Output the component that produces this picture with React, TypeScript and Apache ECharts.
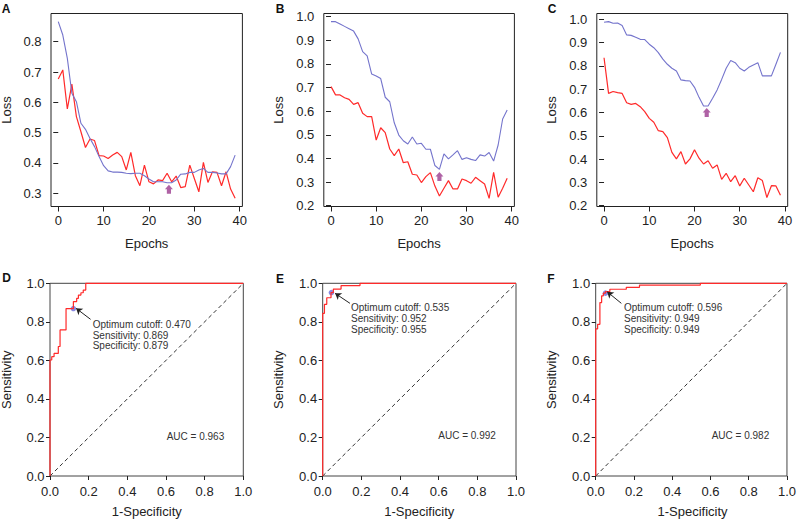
import React, { useEffect, useRef } from "react";
import * as echarts from "echarts";

const FONT = '"Liberation Sans", Arial, Helvetica, sans-serif';

const EPOCHS = [0,1,2,3,4,5,6,7,8,9,10,11,12,13,14,15,16,17,18,19,20,21,22,23,24,25,26,27,28,29,30,31,32,33,34,35,36,37,38,39];

// Panel A
const A_RED = [0.677,0.707,0.578,0.660,0.553,0.503,0.451,0.479,0.474,0.424,0.423,0.415,0.426,0.435,0.421,0.377,0.435,0.358,0.325,0.393,0.338,0.331,0.344,0.342,0.366,0.338,0.357,0.319,0.322,0.393,0.349,0.305,0.402,0.336,0.371,0.369,0.325,0.371,0.314,0.284];
const A_BLUE = [0.866,0.822,0.745,0.630,0.602,0.531,0.511,0.481,0.454,0.421,0.391,0.374,0.370,0.370,0.369,0.366,0.365,0.366,0.366,0.358,0.347,0.338,0.338,0.338,0.335,0.335,0.344,0.363,0.364,0.369,0.369,0.377,0.382,0.369,0.369,0.367,0.364,0.364,0.388,0.426];
// Panel B
const B_RED = [0.704,0.669,0.669,0.657,0.650,0.629,0.636,0.591,0.577,0.577,0.478,0.530,0.509,0.440,0.412,0.440,0.382,0.386,0.333,0.330,0.298,0.323,0.340,0.283,0.241,0.274,0.306,0.271,0.271,0.313,0.306,0.295,0.320,0.306,0.292,0.231,0.341,0.236,0.274,0.316];
const B_BLUE = [0.979,0.979,0.969,0.959,0.949,0.939,0.906,0.852,0.834,0.757,0.749,0.738,0.659,0.640,0.551,0.499,0.475,0.461,0.491,0.461,0.464,0.439,0.439,0.370,0.354,0.419,0.398,0.415,0.433,0.396,0.403,0.396,0.391,0.415,0.410,0.425,0.389,0.457,0.567,0.605];
// Panel C
const C_RED = [0.835,0.682,0.690,0.685,0.682,0.642,0.635,0.639,0.625,0.604,0.575,0.558,0.522,0.518,0.492,0.429,0.401,0.432,0.379,0.401,0.440,0.404,0.379,0.393,0.361,0.375,0.313,0.339,0.303,0.329,0.285,0.318,0.289,0.260,0.320,0.308,0.235,0.286,0.285,0.245];
const C_BLUE = [0.987,0.990,0.983,0.984,0.973,0.933,0.931,0.923,0.914,0.913,0.893,0.878,0.857,0.829,0.807,0.790,0.778,0.740,0.737,0.735,0.708,0.665,0.628,0.628,0.661,0.697,0.742,0.790,0.823,0.814,0.790,0.778,0.794,0.804,0.814,0.757,0.757,0.757,0.807,0.858];

// optimum-epoch arrows [epoch, loss]
const ARROW_A = [24.4, 0.3135];
const ARROW_B = [24.0, 0.3235];
const ARROW_C = [22.7, 0.600];

const LOSS_TICKS_X = [0, 10, 20, 30, 40];
const LOSS_TICKS_A = [0.3, 0.4, 0.5, 0.6, 0.7, 0.8];
const LOSS_TICKS_BC = [0.2, 0.3, 0.4, 0.5, 0.6, 0.7, 0.8, 0.9, 1.0];
const ROC_TICKS = [0, 0.2, 0.4, 0.6, 0.8, 1.0];

// ROC curves [1-specificity, sensitivity]
const ROC_D = [[0,0],[0,0.602],[0.009,0.602],[0.009,0.619],[0.021,0.619],[0.021,0.636],[0.043,0.636],[0.043,0.672],[0.052,0.672],[0.052,0.758],[0.083,0.758],[0.083,0.869],[0.121,0.869],[0.121,0.905],[0.138,0.905],[0.138,0.922],[0.147,0.922],[0.147,0.939],[0.160,0.939],[0.160,0.951],[0.172,0.951],[0.172,0.965],[0.185,0.965],[0.185,1],[1,1]];
const ROC_E = [[0,0],[0,0.844],[0.009,0.844],[0.009,0.891],[0.021,0.891],[0.021,0.925],[0.043,0.925],[0.043,0.952],[0.055,0.952],[0.055,0.970],[0.095,0.970],[0.095,0.988],[0.193,0.988],[0.193,1],[1,1]];
const ROC_F = [[0,0],[0,0.763],[0.010,0.763],[0.010,0.787],[0.022,0.787],[0.022,0.900],[0.031,0.900],[0.031,0.935],[0.040,0.935],[0.040,0.949],[0.051,0.949],[0.051,0.957],[0.074,0.957],[0.074,0.969],[0.160,0.969],[0.160,0.979],[0.229,0.979],[0.229,0.991],[0.547,0.991],[0.547,1],[1,1]];
const CUTOFF_D = [0.121, 0.869];
const CUTOFF_E = [0.045, 0.952];
const CUTOFF_F = [0.051, 0.949];
const POINTER_D = [[0.21, 0.813], [0.135, 0.870]];
const POINTER_E = [[0.141, 0.896], [0.064, 0.948]];
const POINTER_F = [[0.134, 0.896], [0.060, 0.956]];
const TEXT_D = ["Optimum cutoff: 0.470", "Sensitivity: 0.869", "Specificity: 0.879"];
const TEXT_E = ["Optimum cutoff: 0.535", "Sensitivity: 0.952", "Specificity: 0.955"];
const TEXT_F = ["Optimum cutoff: 0.596", "Sensitivity: 0.949", "Specificity: 0.949"];
const AUC = ["AUC = 0.963", "AUC = 0.992", "AUC = 0.982"];
const LETTERS = ["A", "B", "C", "D", "E", "F"];

const RED = "#ff2a2a";
const BLUE = "#7474cc";
const ARROW_COLOR = "#9b3b8f";
const TXT = "#222";
const ARROW_PATH = "path://M5,0L10,5L7.6,5L7.6,10L2.4,10L2.4,5L0,5Z";

export default function App() {
  const ref = useRef<HTMLDivElement>(null);
  useEffect(() => {
    if (!ref.current) return;
    const chart = echarts.init(ref.current, null, { renderer: "svg" });

    const grids = [
      { left: 51, top: 13.5, width: 191.4, height: 193, borderColor: "#222" },
      { left: 323.8, top: 13.5, width: 190.6, height: 193, borderColor: "#222" },
      { left: 596.8, top: 13.5, width: 190.9, height: 193, borderColor: "#222" },
      { left: 50, top: 283.3, width: 193.3, height: 192.7, borderColor: "#444" },
      { left: 322.7, top: 283.3, width: 193.3, height: 192.7, borderColor: "#444" },
      { left: 595.7, top: 283.3, width: 193.6, height: 192.7, borderColor: "#444" },
    ].map((g) => ({ ...g, show: true, borderWidth: 1, backgroundColor: "transparent", containLabel: false }));

    const mkX = (i: number, min: number, max: number, ticks: number[], top: boolean) => ({
      gridIndex: i, type: "value", min, max,
      axisLine: { show: false },
      axisTick: { show: true, length: top ? 5 : 4, lineStyle: { color: "#222" }, customValues: ticks },
      axisLabel: {
        customValues: ticks, margin: top ? 7 : 9, fontSize: 13, color: TXT, fontFamily: FONT,
        formatter: (v: number) => (top ? String(Math.round(v)) : v.toFixed(1)),
      },
      splitLine: { show: false },
    });
    const mkY = (i: number, min: number, max: number, ticks: number[], top: boolean) => ({
      gridIndex: i, type: "value", min, max,
      axisLine: { show: false },
      axisTick: { show: true, length: top ? 5 : 4, lineStyle: { color: "#222" }, customValues: ticks },
      axisLabel: {
        customValues: ticks, margin: top ? 9.5 : 5.5, fontSize: 13, color: TXT, fontFamily: FONT,
        formatter: (v: number) => v.toFixed(1),
      },
      splitLine: { show: false },
    });

    const xAxis = [
      mkX(0, -1.6, 40.6, LOSS_TICKS_X, true),
      mkX(1, -1.6, 40.6, LOSS_TICKS_X, true),
      mkX(2, -1.6, 40.6, LOSS_TICKS_X, true),
      mkX(3, 0, 1, ROC_TICKS, false),
      mkX(4, 0, 1, ROC_TICKS, false),
      mkX(5, 0, 1, ROC_TICKS, false),
    ];
    const yAxis = [
      mkY(0, 0.2565, 0.893, LOSS_TICKS_A, true),
      mkY(1, 0.1966, 1.0135, LOSS_TICKS_BC, true),
      mkY(2, 0.1966, 1.0249, LOSS_TICKS_BC, true),
      mkY(3, 0, 1, ROC_TICKS, false),
      mkY(4, 0, 1, ROC_TICKS, false),
      mkY(5, 0, 1, ROC_TICKS, false),
    ];

    const series: any[] = [];
    const lossSets = [
      [A_RED, A_BLUE, ARROW_A],
      [B_RED, B_BLUE, ARROW_B],
      [C_RED, C_BLUE, ARROW_C],
    ];
    lossSets.forEach(([red, blue, arrow], i) => {
      series.push({
        type: "line", xAxisIndex: i, yAxisIndex: i, symbol: "none", showSymbol: false,
        data: (red as number[]).map((v, k) => [EPOCHS[k], v]),
        lineStyle: { color: RED, width: 1.2 }, silent: true,
      });
      series.push({
        type: "line", xAxisIndex: i, yAxisIndex: i, symbol: "none", showSymbol: false,
        data: (blue as number[]).map((v, k) => [EPOCHS[k], v]),
        lineStyle: { color: BLUE, width: 1.1 }, silent: true,
      });
      series.push({
        type: "scatter", xAxisIndex: i, yAxisIndex: i, data: [arrow],
        symbol: ARROW_PATH, symbolSize: [8, 9], itemStyle: { color: ARROW_COLOR }, silent: true,
      });
    });

    const rocSets = [
      [ROC_D, CUTOFF_D, POINTER_D],
      [ROC_E, CUTOFF_E, POINTER_E],
      [ROC_F, CUTOFF_F, POINTER_F],
    ];
    rocSets.forEach(([roc, cut, ptr], j) => {
      const i = j + 3;
      series.push({
        type: "line", xAxisIndex: i, yAxisIndex: i, symbol: "none", showSymbol: false,
        data: [[0, 0], [1, 1]],
        lineStyle: { color: "#333", width: 1, type: [4, 3] }, silent: true,
      });
      series.push({
        type: "line", xAxisIndex: i, yAxisIndex: i, symbol: "none", showSymbol: false, clip: false,
        data: roc, lineStyle: { color: RED, width: 1.2 }, silent: true,
      });
      const p = ptr as number[][];
      series.push({
        type: "scatter", xAxisIndex: i, yAxisIndex: i, data: [cut], symbolSize: 5.5,
        itemStyle: { color: "#6c6cd8" }, silent: true,
        markLine: {
          silent: true, symbol: ["none", "arrow"], symbolSize: 6,
          lineStyle: { color: "#222", width: 1, type: "solid" },
          label: { show: false },
          data: [[{ coord: p[0] }, { coord: p[1] }]],
        },
      });
    });

    const txt = (text: string, x: number, y: number, size: number, opts: any = {}) => ({
      type: "text", x, y, rotation: opts.rotation || 0, silent: true,
      style: {
        text, fill: opts.fill || TXT, font: `${opts.bold ? "bold " : ""}${size}px ${FONT}`,
        align: opts.align || "center", verticalAlign: "middle",
      },
    });

    const graphic: any[] = [];
    const letterPos = [[6, 9], [280, 9], [552, 9], [6.7, 278], [280, 279], [551, 279]];
    LETTERS.forEach((l, k) => graphic.push(txt(l, letterPos[k][0], letterPos[k][1], 12, { bold: true, fill: "#111" })));
    [146.7, 419.1, 692.2].forEach((cx) => graphic.push(txt("Epochs", cx, 243, 13)));
    [6.7, 278.3, 551.7].forEach((cx) => graphic.push(txt("Loss", cx, 110, 13, { rotation: Math.PI / 2 })));
    [146.7, 419.3, 692.5].forEach((cx) => graphic.push(txt("1-Specificity", cx, 511.7, 13)));
    [6.7, 278.3, 551.7].forEach((cx) => graphic.push(txt("Sensitivity", cx, 379.7, 13, { rotation: Math.PI / 2 })));

    const annPos = [
      [92.7, [324, 335, 345.7], TEXT_D],
      [351, [307.3, 318, 329], TEXT_E],
      [624, [307.3, 318, 329], TEXT_F],
    ];
    annPos.forEach(([x, ys, lines]: any) => {
      (lines as string[]).forEach((s, k) => graphic.push(txt(s, x, ys[k], 10, { align: "left", fill: "#333" })));
    });
    const aucPos = [[166.7, 436], [438.3, 435], [711.7, 435]];
    AUC.forEach((s, k) => graphic.push(txt(s, aucPos[k][0], aucPos[k][1], 10, { align: "left", fill: "#333" })));

    chart.setOption({
      animation: false,
      backgroundColor: "#fff",
      grid: grids,
      xAxis,
      yAxis,
      series,
      graphic,
    });
    return () => chart.dispose();
  }, []);

  return (
    <div
      ref={ref}
      style={{ position: "fixed", left: 0, top: 0, width: 799, height: 521, background: "#fff" }}
    />
  );
}
